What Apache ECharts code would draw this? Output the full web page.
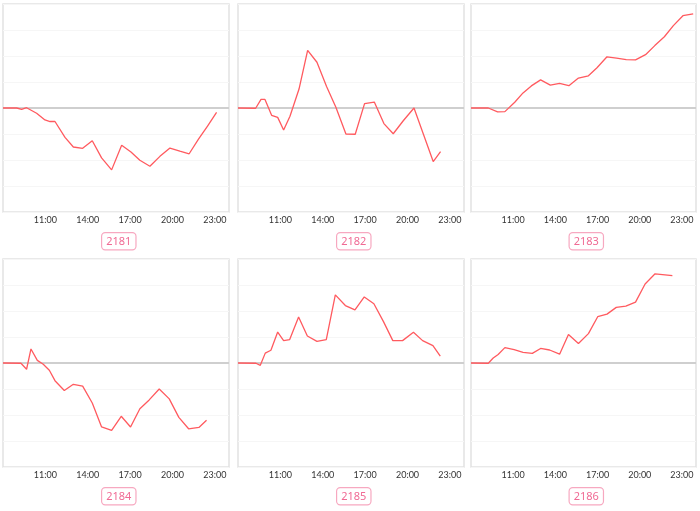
<!DOCTYPE html>
<html>
<head>
<meta charset="utf-8">
<script src="https://cdn.jsdelivr.net/npm/echarts@6/dist/echarts.min.js"></script>
<style>html,body{margin:0;padding:0;background:#fff}#c{width:700px;height:511px}</style>
</head>
<body>
<div id="c"></div>
<script>
const panelNames = ['2181', '2182', '2183', '2184', '2185', '2186'];
const tickLabels = ['11:00', '14:00', '17:00', '20:00', '23:00'];

const hours2181 = [8.00, 8.97, 9.32, 9.67, 10.38, 10.97, 11.33, 11.68, 12.39, 12.98, 13.64, 14.32, 14.98, 15.69, 16.40, 17.06, 17.69, 18.40, 19.11, 19.82, 20.52, 21.18, 21.84, 22.48, 23.12];
const values2181 = [0, 0, -0.05, 0.01, -0.20, -0.46, -0.52, -0.52, -1.13, -1.50, -1.55, -1.26, -1.92, -2.38, -1.43, -1.69, -2.01, -2.24, -1.86, -1.54, -1.66, -1.76, -1.20, -0.70, -0.17];

const hours2182 = [8.00, 9.25, 9.63, 9.91, 10.38, 10.81, 11.23, 11.68, 12.32, 12.93, 13.59, 14.27, 14.93, 15.64, 16.30, 16.96, 17.65, 18.33, 18.99, 19.70, 20.46, 21.14, 21.82, 22.34];
const values2182 = [0, -0.01, 0.33, 0.33, -0.28, -0.36, -0.85, -0.32, 0.73, 2.22, 1.76, 0.83, 0.03, -1.00, -1.01, 0.17, 0.23, -0.60, -0.99, -0.49, 0.00, -1.03, -2.06, -1.68];

const hours2183 = [8.00, 9.23, 9.89, 10.41, 11.11, 11.70, 12.29, 12.95, 13.64, 14.30, 14.96, 15.64, 16.35, 16.96, 17.67, 18.35, 19.04, 19.70, 20.41, 21.07, 21.75, 22.39, 23.07, 23.80];
const values2183 = [0, 0, -0.15, -0.14, 0.22, 0.58, 0.85, 1.08, 0.88, 0.95, 0.86, 1.15, 1.24, 1.55, 1.97, 1.92, 1.86, 1.85, 2.05, 2.40, 2.74, 3.17, 3.55, 3.62];

const hours2184 = [8.00, 9.27, 9.67, 9.98, 10.43, 10.85, 11.28, 11.68, 12.34, 12.98, 13.64, 14.32, 14.98, 15.69, 16.37, 17.03, 17.69, 18.35, 19.06, 19.77, 20.45, 21.14, 21.87, 22.41];
const values2184 = [0, -0.01, -0.24, 0.54, 0.10, -0.05, -0.28, -0.68, -1.06, -0.82, -0.89, -1.54, -2.46, -2.59, -2.05, -2.46, -1.76, -1.42, -1.00, -1.38, -2.09, -2.53, -2.48, -2.20];

const hours2185 = [8.00, 9.27, 9.58, 9.93, 10.33, 10.81, 11.23, 11.66, 12.29, 12.91, 13.59, 14.25, 14.89, 15.60, 16.28, 16.94, 17.62, 18.30, 18.96, 19.65, 20.42, 21.07, 21.80, 22.32];
const values2185 = [0, -0.01, -0.09, 0.38, 0.49, 1.19, 0.86, 0.90, 1.77, 1.04, 0.83, 0.90, 2.62, 2.21, 2.04, 2.54, 2.28, 1.59, 0.86, 0.86, 1.18, 0.86, 0.67, 0.26];

const hours2186 = [8.00, 9.23, 9.58, 9.93, 10.41, 11.07, 11.70, 12.36, 12.95, 13.59, 14.30, 14.93, 15.64, 16.35, 17.01, 17.67, 18.33, 19.01, 19.70, 20.38, 21.09, 22.32];
const values2186 = [0, -0.01, 0.19, 0.33, 0.59, 0.51, 0.41, 0.37, 0.56, 0.50, 0.34, 1.10, 0.75, 1.13, 1.78, 1.88, 2.14, 2.19, 2.34, 3.04, 3.43, 3.36];

const hoursList = [hours2181, hours2182, hours2183, hours2184, hours2185, hours2186];
const valuesList = [values2181, values2182, values2183, values2184, values2185, values2186];

const gridLefts = [3, 238, 471];
const gridWidths = [226, 226, 225];
const gridTops = [4, 259];
const gridH = 208;

const chart = echarts.init(document.getElementById('c'), null, {renderer: 'canvas'});
const grid = [], xAxis = [], yAxis = [], series = [], graphic = [];
for (let i = 0; i < 6; i++) {
  const r = Math.floor(i / 3), c = i % 3;
  grid.push({left: gridLefts[c], top: gridTops[r], width: gridWidths[c], height: gridH,
    show: true, borderColor: '#e2e2e2', borderWidth: 1.5, backgroundColor: '#fff'});
  xAxis.push({type: 'value', gridIndex: i, min: 8, max: 24, interval: 1,
    axisLine: {show: false}, axisTick: {show: false}, splitLine: {show: false},
    axisLabel: {margin: 4, fontSize: 9, color: '#333', fontFamily: 'Lato, "DejaVu Sans", sans-serif',
      showMinLabel: false, showMaxLabel: false,
      formatter: function (v) {
        const lbl = (v < 10 ? '0' : '') + v + ':00';
        return tickLabels.indexOf(lbl) >= 0 ? lbl : '';
      }}});
  yAxis.push({type: 'value', gridIndex: i, min: -4, max: 4, interval: 1,
    axisLine: {show: false}, axisTick: {show: false}, axisLabel: {show: false},
    splitLine: {show: true, lineStyle: {color: '#f6f6f6', width: 1}}});
  // zero reference line, drawn beneath the data line
  series.push({type: 'line', xAxisIndex: i, yAxisIndex: i, data: [], z: 1, silent: true,
    markLine: {silent: true, symbol: 'none', label: {show: false}, animation: false,
      lineStyle: {color: '#cfcfcf', width: 2, type: 'solid'}, data: [{yAxis: 0}]}});
  series.push({type: 'line', xAxisIndex: i, yAxisIndex: i, showSymbol: false, symbol: 'none', z: 5,
    data: hoursList[i].map((h, k) => [h, valuesList[i][k]]),
    lineStyle: {color: '#ff5a5f', width: 1.3}, itemStyle: {color: '#ff5a5f'},
    animation: false});
  graphic.push({type: 'text', left: gridLefts[c] + gridWidths[c] / 2 - 15, top: gridTops[r] + gridH + 20,
    style: {text: panelNames[i], fill: '#f06a94', font: '11px "Noto Sans", sans-serif',
      backgroundColor: '#fff', borderColor: '#f7a8c0', borderWidth: 1.2, borderRadius: 3,
      padding: [3, 4, 2, 4]}});
}
chart.setOption({animation: false, grid, xAxis, yAxis, series, graphic});
</script>
</body>
</html>
